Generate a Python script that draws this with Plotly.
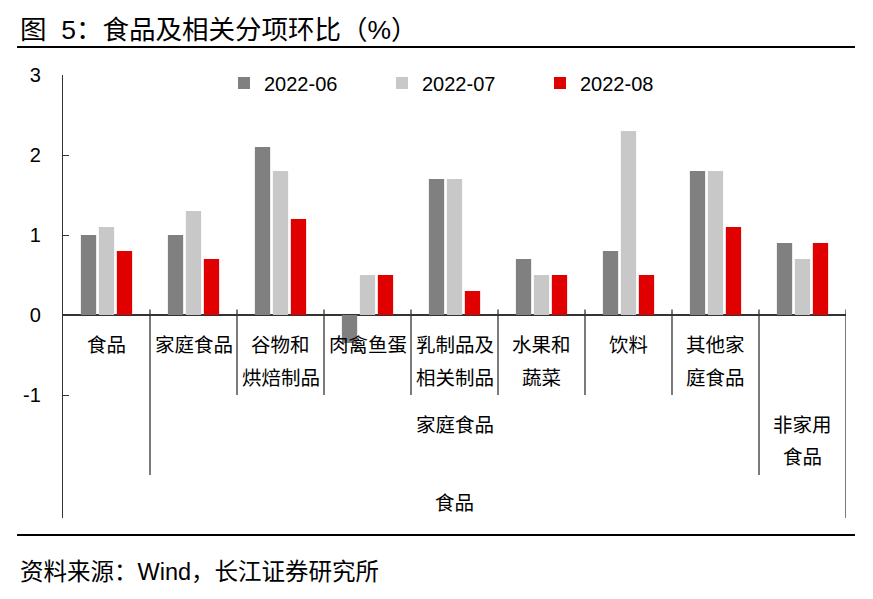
import plotly.graph_objects as go

# ---- data ----
categories = ["食品", "家庭食品", "谷物和烘焙制品", "肉禽鱼蛋", "乳制品及相关制品",
              "水果和蔬菜", "饮料", "其他家庭食品", "非家用食品"]
label_line1 = ["食品", "家庭食品", "谷物和", "肉禽鱼蛋", "乳制品及", "水果和", "饮料", "其他家", ""]
label_line2 = ["", "", "烘焙制品", "", "相关制品", "蔬菜", "", "庭食品", ""]
series_names = ["2022-06", "2022-07", "2022-08"]
v_2022_06 = [1.0, 1.0, 2.1, -0.35, 1.7, 0.7, 0.8, 1.8, 0.9]
v_2022_07 = [1.1, 1.3, 1.8, 0.5, 1.7, 0.5, 2.3, 1.8, 0.7]
v_2022_08 = [0.8, 0.7, 1.2, 0.5, 0.3, 0.5, 0.5, 1.1, 0.9]
level2_labels = ["家庭食品", "非家用<br>食品"]
level3_label = "食品"
y_ticks = [-1, 0, 1, 2, 3]
y_ticktext = ["-1", "0", "1", "2", "3"]
title_text = "图\u00a0\u00a05：食品及相关分项环比（%）"
source_text = "资料来源：Wind，长江证券研究所"

colors = ["#808080", "#C8C8C8", "#E00000"]
FONT = "Liberation Sans, Arial, Noto Sans CJK SC, sans-serif"
CJK = "Noto Sans CJK SC, sans-serif"

fig = go.Figure()
for name, vals, c in zip(series_names, [v_2022_06, v_2022_07, v_2022_08], colors):
    fig.add_trace(go.Bar(x=categories, y=vals, name=name, marker_color=c,
                         marker_line_width=0))

Y_BOTTOM = -2.5375
lc = "#333333"
shapes = []
for i in range(len(categories)):
    xpos = i + 0.5
    if i == len(categories) - 1:
        shapes.append(dict(type="line", xref="x", yref="paper", x0=xpos, x1=xpos,
                           y0=0, y1=(0.07 - Y_BOTTOM) / (3 - Y_BOTTOM),
                           line=dict(color=lc, width=1.3)))
    else:
        ylow = -2.0 if i in (0, 7) else -1.0
        shapes.append(dict(type="line", xref="x", yref="y", x0=xpos, x1=xpos,
                           y0=0.07, y1=ylow, line=dict(color=lc, width=1.3)))
shapes.append(dict(type="line", xref="paper", yref="paper", x0=-0.0587, x1=1.0115,
                   y0=1.0632, y1=1.0632, line=dict(color="black", width=2)))
shapes.append(dict(type="line", xref="paper", yref="paper", x0=-0.0587, x1=1.0115,
                   y0=-0.0384, y1=-0.0384, line=dict(color="black", width=2)))

LF = dict(size=19.5, family=CJK, color="black")
ann = []
for i, (l1, l2) in enumerate(zip(label_line1, label_line2)):
    if l1:
        ann.append(dict(x=i, y=-0.36, xref="x", yref="y", text=l1, showarrow=False,
                        font=LF, yanchor="middle"))
    if l2:
        ann.append(dict(x=i, y=-0.77, xref="x", yref="y", text=l2, showarrow=False,
                        font=LF, yanchor="middle"))
ann.append(dict(x=4, y=-1.35, xref="x", yref="y", text=level2_labels[0], showarrow=False,
                font=LF, yanchor="middle"))
for j, part in enumerate(level2_labels[1].split("<br>")):
    ann.append(dict(x=8, y=-1.35 - 0.4 * j, xref="x", yref="y", text=part, showarrow=False,
                    font=LF, yanchor="middle"))
ann.append(dict(x=4, y=-2.33, xref="x", yref="y", text=level3_label, showarrow=False,
                font=LF, yanchor="middle"))
ann.append(dict(x=-0.0575, y=1.1016, xref="paper", yref="paper", text=title_text,
                showarrow=False, xanchor="left", yanchor="middle",
                font=dict(size=26.5, family=FONT, color="black")))
ann.append(dict(x=-0.0575, y=-0.1219, xref="paper", yref="paper", text=source_text,
                showarrow=False, xanchor="left", yanchor="middle",
                font=dict(size=23.5, family=FONT, color="black")))

fig.update_layout(
    width=865, height=591,
    margin=dict(l=55, r=27, t=67, b=81),
    paper_bgcolor="white", plot_bgcolor="white",
    barmode="group", bargap=0.38, bargroupgap=0.15,
    font=dict(family=FONT, size=19, color="black"),
    showlegend=True,
    legend=dict(orientation="h", x=0.2056, xanchor="left", y=0.982, yanchor="middle",
                entrywidth=113, entrywidthmode="pixels", itemwidth=30,
                font=dict(size=20), bgcolor="rgba(0,0,0,0)"),
    xaxis=dict(range=[-0.5, 8.5], showticklabels=False, ticks="", showline=False,
               showgrid=False, zeroline=False),
    yaxis=dict(range=[Y_BOTTOM, 3], tickvals=y_ticks, ticktext=y_ticktext,
               ticks="inside", ticklen=6, ticklabelstandoff=17,
               tickcolor=lc, showline=True, linecolor=lc, linewidth=1.3, showgrid=False,
               zeroline=True, zerolinecolor=lc, zerolinewidth=1.5,
               tickfont=dict(size=20, family=FONT)),
    shapes=shapes, annotations=ann,
)

fig.write_html("out.html")
